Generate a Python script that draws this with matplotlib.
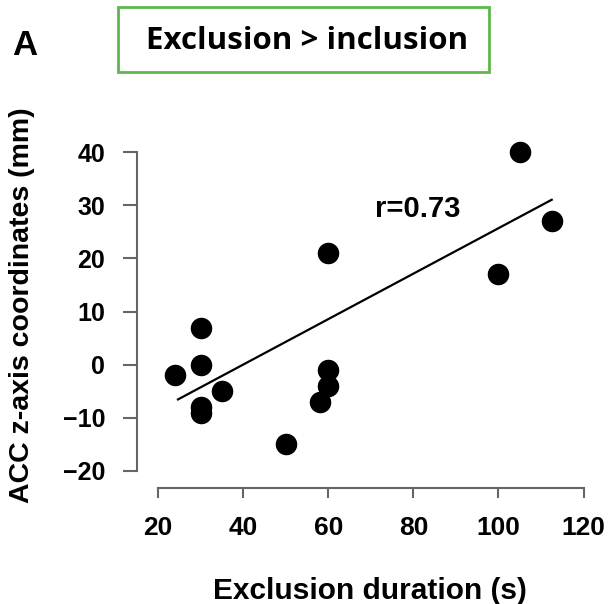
import matplotlib.pyplot as plt
import numpy as np
from matplotlib.patches import Rectangle

# exclusion duration (s) vs ACC z coordinate (mm)
duration = [24, 30, 30, 30, 30, 35, 50, 58, 60, 60, 60, 100, 105, 112.5]
z_coord = [-2, 7, 0, -8, -9, -5, -15, -7, 21, -1, -4, 17, 40, 27]
r_value = 0.73
# reported regression line
fit_slope = 0.428
fit_intercept = -17.1
xticks = [20, 40, 60, 80, 100, 120]
yticks = [-20, -10, 0, 10, 20, 30, 40]

plt.rcParams['font.family'] = ['Liberation Sans', 'DejaVu Sans']

fig = plt.figure(figsize=(6.11, 6.04), dpi=100)
ax = fig.add_axes([137 / 611, 1 - 488 / 604, (590 - 137) / 611, (488 - 140) / 604])

ax.scatter(duration, z_coord, s=210, color='black', zorder=3)

xs = np.array([24.7, max(duration)])
ax.plot(xs, fit_slope * xs + fit_intercept, color='black', lw=1.6)

ax.text(71, 27.8, 'r=%.2f' % r_value, fontsize=21, fontweight='bold')

ax.set_xlim(15.07, 121.5)
ax.set_ylim(-23.2, 42.3)
ax.set_xticks(xticks)
ax.set_yticks(yticks)
for lab in ax.get_xticklabels() + ax.get_yticklabels():
    lab.set_fontweight('bold')

for side in ['top', 'right']:
    ax.spines[side].set_visible(False)
ax.spines['left'].set_bounds(-20, 40)
ax.spines['bottom'].set_bounds(20, 120)
for side in ['left', 'bottom']:
    ax.spines[side].set_color('#666666')
    ax.spines[side].set_linewidth(1.5)
ax.tick_params(axis='y', length=10, width=1.5, color='#666666', labelsize=18, pad=13)
ax.tick_params(axis='x', length=7, width=1.5, color='#666666', labelsize=19, pad=13)

ax.set_xlabel('Exclusion duration (s)', fontsize=21.5, fontweight='bold')
ax.set_ylabel('ACC z-axis coordinates (mm)', fontsize=20.5, fontweight='bold')
ax.xaxis.set_label_coords(0.514, -0.256)
ax.yaxis.set_label_coords(-0.225, 0.526)

# panel letter and boxed title
fig.text(12 / 611, 1 - 55 / 604, 'A', fontsize=25, fontweight='bold')
fig.patches.append(Rectangle((118 / 611, 1 - 72 / 604), (489 - 118) / 611, 65 / 604,
                             transform=fig.transFigure, fill=False,
                             edgecolor='#5cb84a', linewidth=2))
fig.text(307 / 611, 1 - 41 / 604, 'Exclusion > inclusion', fontsize=22.5,
         fontweight='bold', family=['Open Sans', 'DejaVu Sans'],
         ha='center', va='center')

fig.savefig('out.png', dpi=100)
